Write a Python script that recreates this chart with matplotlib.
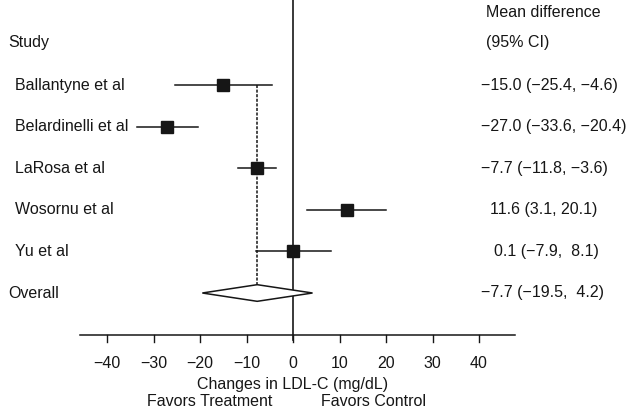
import matplotlib.pyplot as plt
import matplotlib.transforms as transforms

studies = ["Ballantyne et al", "Belardinelli et al", "LaRosa et al", "Wosornu et al", "Yu et al"]
means = [-15.0, -27.0, -7.7, 11.6, 0.1]
lower = [-25.4, -33.6, -11.8, 3.1, -7.9]
upper = [-4.6, -20.4, -3.6, 20.1, 8.1]
overall_mean = -7.7
overall_lower = -19.5
overall_upper = 4.2
ticks = [-40, -30, -20, -10, 0, 10, 20, 30, 40]


def ci_text(m, lo, hi):
    def f(v):
        return ("%.1f" % v).replace("-", "\u2212")
    hi_s = f(hi)
    if 0 <= hi < 10:
        hi_s = " " + hi_s
    return "%s (%s, %s)" % (f(m), f(lo), hi_s)


def main():
    plt.rcParams['font.family'] = ['Liberation Sans', 'DejaVu Sans']
    fig = plt.figure(figsize=(6.36, 4.2), dpi=100)
    ax = fig.add_axes([0, 0, 1, 1])
    # pixel 293 -> 0, 4.65 px per unit
    ax.set_xlim(-293 / 4.65, (636 - 293) / 4.65)
    # row index: row 0 at pixel 85, 41.6 px per row
    ax.set_ylim((420 - 85) / 41.6, -85 / 41.6)
    ax.axis("off")
    col = "#161616"
    fs = 11.5
    mix = transforms.blended_transform_factory(ax.transAxes, ax.transData)

    n = len(studies)
    axis_y = n + 1

    # zero line
    ax.plot([0, 0], [-85 / 41.6, axis_y + 0.12], color=col, lw=1.2)
    # x axis
    ax.plot([-45.8, 47.8], [axis_y, axis_y], color=col, lw=1.1)
    for t in ticks:
        ax.plot([t, t], [axis_y, axis_y + 0.17], color=col, lw=1.0)
        ax.text(t, axis_y + 0.7, ("%d" % t).replace("-", "\u2212"), ha="center", va="center",
                fontsize=fs, color=col)
    ax.text(0, axis_y + 1.2, "Changes in LDL-C (mg/dL)", ha="center", va="center", fontsize=fs, color=col)
    ax.text((210 - 293) / 4.65, axis_y + 1.6, "Favors Treatment", ha="center", va="center", fontsize=fs, color=col)
    ax.text((373 - 293) / 4.65, axis_y + 1.6, "Favors Control", ha="center", va="center", fontsize=fs, color=col)

    # dashed overall line
    ax.plot([overall_mean, overall_mean], [0, n], color=col, lw=1.1, dashes=(2, 1))

    for i in range(n):
        ax.plot([lower[i], upper[i]], [i, i], color=col, lw=1.1)
        ax.plot(means[i], i, marker="s", markersize=8.4, color=col, linestyle="none")
        ax.text(15 / 636, i, studies[i], transform=mix, ha="left", va="center", fontsize=fs, color=col)
        xpos = 481 / 636 if means[i] < 0 else 490 / 636 + (4 / 636 if abs(means[i]) < 10 else 0)
        ax.text(xpos, i, ci_text(means[i], lower[i], upper[i]), transform=mix,
                ha="left", va="center", fontsize=fs, color=col)

    # diamond
    h = 0.2
    ax.fill([overall_lower, overall_mean, overall_upper, overall_mean, overall_lower],
            [n, n - h, n, n + h, n], facecolor="white", edgecolor=col, lw=1.1, zorder=3)
    ax.text(8 / 636, n, "Overall", transform=mix, ha="left", va="center", fontsize=fs, color=col)
    ax.text(481 / 636, n, ci_text(overall_mean, overall_lower, overall_upper), transform=mix,
            ha="left", va="center", fontsize=fs, color=col)

    ax.text(8 / 636, -1.03, "Study", transform=mix, ha="left", va="center", fontsize=fs, color=col)
    ax.text(486 / 636, -1.75, "Mean difference", transform=mix, ha="left", va="center", fontsize=fs, color=col)
    ax.text(486 / 636, -1.03, "(95% CI)", transform=mix, ha="left", va="center", fontsize=fs, color=col)

    fig.savefig("out.png", dpi=100, facecolor="white")


if __name__ == "__main__":
    main()
